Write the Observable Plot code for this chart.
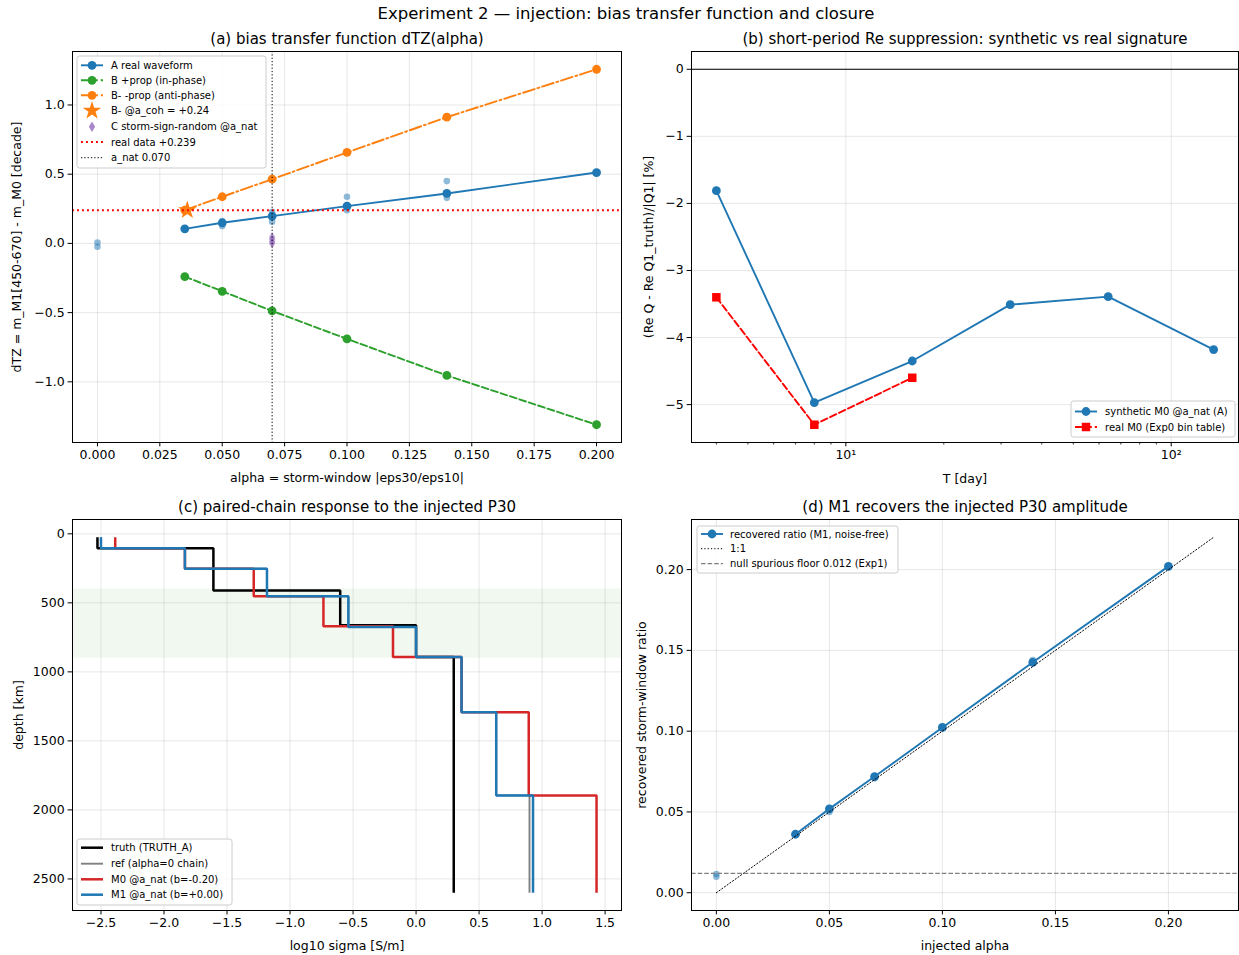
<!DOCTYPE html>
<html><head><meta charset="utf-8">
<script src="https://cdn.jsdelivr.net/npm/d3@7"></script>
<script src="https://cdn.jsdelivr.net/npm/@observablehq/plot@0.6"></script>
<style>
body{margin:0;background:#fff;}
#fig{position:relative;width:1239px;height:955px;overflow:hidden;background:#fff;font-family:"DejaVu Sans",sans-serif;}
#fig svg{position:absolute;overflow:visible;}
#sup{position:absolute;left:0;top:4px;width:1252px;text-align:center;font-size:16.5px;line-height:20px;color:#000;}
</style></head><body>
<div id="fig"><div id="sup">Experiment 2 — injection: bias transfer function and closure</div></div>
<script>
// ---------- data: panel (a) ----------
const alphaLevels = [0.035, 0.05, 0.07, 0.10, 0.14, 0.20];
const dtzA = [0.105, 0.149, 0.197, 0.269, 0.361, 0.512];
const dtzBplus = [-0.240, -0.346, -0.488, -0.690, -0.954, -1.310];
const dtzBminus = [0.240, 0.337, 0.464, 0.657, 0.912, 1.258];
const seedAlphaA = [0, 0, 0.05, 0.05, 0.07, 0.07, 0.10, 0.10, 0.14, 0.14];
const seedDtzA = [0.007, -0.024, 0.161, 0.125, 0.228, 0.156, 0.337, 0.240, 0.450, 0.329];
const aCoh = 0.036, dtzCoh = 0.24;
const aNat = 0.070;
const dtzC = [0.045, 0.030, 0.012, 0.000];
const realDtz = 0.239;
const xTicksA = [0, 0.025, 0.05, 0.075, 0.1, 0.125, 0.15, 0.175, 0.2];
const yTicksA = [-1, -0.5, 0, 0.5, 1];
// ---------- data: panel (b) ----------
const periods = [4, 8, 16, 32, 64, 135];
const synthRe = [-1.81, -4.97, -4.35, -3.51, -3.39, -4.18];
const realPeriods = [4, 8, 16];
const realRe = [-3.40, -5.30, -4.60];
const xTicksB = [10, 100];
const xTickLabelsB = ["10¹", "10²"];
const xMinorB = [4, 5, 6, 7, 8, 9, 20, 30, 40, 50, 60, 70, 80, 90];
const yTicksB = [-5, -4, -3, -2, -1, 0];
// ---------- data: panel (c) ----------
const truthDepth = [25, 104, 410, 663, 893, 2600];
const truthSig = [-2.528, -1.608, -0.602, 0.0, 0.299];
const ref_Depth = [25, 104, 253, 453, 675, 893, 1292, 1895, 2600];
const refSig = [-2.50, -1.834, -1.183, -0.537, 0.0, 0.361, 0.636, 0.900];
const m0Depth = [25, 104, 253, 453, 670, 893, 1292, 1895, 2600];
const m0Sig = [-2.387, -1.834, -1.288, -0.735, -0.183, 0.361, 0.894, 1.432];
const m1Depth = [25, 104, 253, 453, 675, 893, 1292, 1895, 2600];
const m1Sig = [-2.50, -1.834, -1.183, -0.537, 0.0, 0.361, 0.636, 0.928];
const bandTop = 400, bandBottom = 900;
const xTicksC = [-2.5, -2, -1.5, -1, -0.5, 0, 0.5, 1, 1.5];
const yTicksC = [0, 500, 1000, 1500, 2000, 2500];
// ---------- data: panel (d) ----------
const injAlpha = [0.035, 0.05, 0.07, 0.10, 0.14, 0.20];
const recRatio = [0.0362, 0.0519, 0.0719, 0.1023, 0.1426, 0.2020];
const seedInj = [0, 0, 0.05, 0.07, 0.14];
const seedRec = [0.0116, 0.0099, 0.0500, 0.0708, 0.1440];
const oneToOneX = [0, 0.22];
const nullFloor = 0.012;
const ticksD = [0, 0.05, 0.1, 0.15, 0.2];

// ---------- styling helpers ----------
const FONT = "DejaVu Sans";
const blue = "#1f77b4", orange = "#ff7f0e", green = "#2ca02c", tred = "#d62728", purple = "#9467bd";
const style = {fontFamily: FONT, fontSize: "12.5px", overflow: "visible", background: "none", color: "#000"};
const gridOpt = {stroke: "#b0b0b0", strokeOpacity: 0.3, strokeWidth: 1};
const axOpt = {tickSize: 4.4, tickPadding: 3.5, fontSize: 12.5, labelAnchor: "center", labelArrow: "none"};
const fmt = n => d => d.toFixed(n).replace("-", "\u2212");
const DASH = "6.9,3", DASHDOT = "12,3,1.9,3", DOT15 = "1.9,3.1", DOT1 = "1.25,2.06";
const RM = 4.4, RS = 3.3;
const thinDiamond = {draw(ctx, size) { const r = Math.sqrt(size / Math.PI); ctx.moveTo(0, -r); ctx.lineTo(0.6 * r, 0); ctx.lineTo(0, r); ctx.lineTo(-0.6 * r, 0); ctx.closePath(); }};
const title = t => Plot.text([t], {text: d => d, frameAnchor: "top", dy: -12, fontSize: 15, lineAnchor: "middle", fill: "#000"});
const pts = (xs, ys) => xs.map((x, i) => ({x, y: ys[i]}));
function steps(bounds, vals) { const p = []; vals.forEach((v, i) => { p.push({x: v, y: bounds[i]}); p.push({x: v, y: bounds[i + 1]}); }); return p; }
function mplDomain(lo, hi) { const m = 0.05 * (hi - lo); return [lo - m, hi + m]; }
const fig = document.getElementById("fig");
function place(svg, left, top) { svg.style.left = left + "px"; svg.style.top = top + "px"; fig.appendChild(svg); return svg; }
function legend(svg, box, items) {
  const g = d3.select(svg).append("g").attr("font-family", FONT).attr("font-size", 10).attr("text-anchor", "start");
  g.append("rect").attr("x", box.x).attr("y", box.y).attr("width", box.w).attr("height", box.h).attr("rx", 2.5)
    .attr("fill", "white").attr("fill-opacity", 0.8).attr("stroke", "#cccccc").attr("stroke-width", 1);
  items.forEach((it, i) => {
    const y = box.rows[i], x0 = box.hx, x1 = box.hx + 22, xm = (x0 + x1) / 2;
    if (it.line) g.append("line").attr("x1", x0).attr("x2", x1).attr("y1", y).attr("y2", y)
      .attr("stroke", it.line.stroke).attr("stroke-width", it.line.width || 1.9).attr("stroke-dasharray", it.line.dash || null);
    if (it.marker) g.append("path").attr("d", d3.symbol(it.marker.type, it.marker.size)())
      .attr("transform", `translate(${xm},${y})`).attr("fill", it.marker.fill).attr("fill-opacity", it.marker.opacity ?? 1);
    g.append("text").attr("x", box.tx).attr("y", y).attr("dy", "0.35em").attr("text-anchor", "start").attr("fill", "#000").text(it.label);
  });
}
const circ = fill => ({type: d3.symbolCircle, size: Math.PI * RM * RM, fill});

// ---------- panel (a) ----------
const A = pts(alphaLevels, dtzA), Bp = pts(alphaLevels, dtzBplus), Bm = pts(alphaLevels, dtzBminus);
const seedsA = pts(seedAlphaA, seedDtzA);
const C = dtzC.map(v => ({x: aNat, y: v}));
const ya = mplDomain(d3.min(dtzBplus), d3.max(dtzBminus));
const pa = Plot.plot({
  width: 640, height: 490, marginLeft: 72, marginRight: 19, marginTop: 51, marginBottom: 48,
  x: {domain: mplDomain(0, 0.2)}, y: {domain: ya}, style,
  marks: [
    Plot.gridX({ticks: xTicksA, ...gridOpt}),
    Plot.gridY({ticks: yTicksA, ...gridOpt}),
    Plot.dot(seedsA, {x: "x", y: "y", r: RS, fill: blue, fillOpacity: 0.5}),
    Plot.line(A, {x: "x", y: "y", stroke: blue, strokeWidth: 1.9}),
    Plot.dot(A, {x: "x", y: "y", r: RM, fill: blue}),
    Plot.line(Bp, {x: "x", y: "y", stroke: green, strokeWidth: 1.9, strokeDasharray: DASH}),
    Plot.dot(Bp, {x: "x", y: "y", r: RM, fill: green}),
    Plot.line(Bm, {x: "x", y: "y", stroke: orange, strokeWidth: 1.9, strokeDasharray: DASHDOT}),
    Plot.dot(Bm, {x: "x", y: "y", r: RM, fill: orange}),
    Plot.dot([{x: aCoh, y: dtzCoh}], {x: "x", y: "y", symbol: "star", r: 5.8, fill: orange}),
    Plot.dot(C, {x: "x", y: "y", symbol: thinDiamond, r: 5.2, fill: purple, fillOpacity: 0.6}),
    Plot.ruleY([realDtz], {stroke: "red", strokeWidth: 1.9, strokeDasharray: DOT15}),
    Plot.ruleX([aNat], {stroke: "black", strokeWidth: 1, strokeDasharray: DOT1}),
    Plot.frame({stroke: "black", strokeWidth: 1}),
    Plot.axisX({ticks: xTicksA, tickFormat: fmt(3), ...axOpt, label: "alpha = storm-window |eps30/eps10|", labelOffset: 39}),
    Plot.axisY({ticks: yTicksA, tickFormat: fmt(1), ...axOpt, label: "dTZ = m_M1[450-670] - m_M0 [decade]", labelOffset: 60}),
    title("(a) bias transfer function dTZ(alpha)")
  ]
});
place(pa, 0, 0);
legend(pa, {x: 77, y: 56, w: 189, h: 112, hx: 81, tx: 111, rows: [65.3, 80.3, 95.3, 110.7, 126.7, 142, 157.7]}, [
  {label: "A real waveform", line: {stroke: blue}, marker: circ(blue)},
  {label: "B +prop (in-phase)", line: {stroke: green, dash: DASH}, marker: circ(green)},
  {label: "B- -prop (anti-phase)", line: {stroke: orange, dash: DASHDOT}, marker: circ(orange)},
  {label: "B- @a_coh = +0.24", marker: {type: d3.symbolStar, size: Math.PI * 5.8 * 5.8, fill: orange}},
  {label: "C storm-sign-random @a_nat", marker: {type: thinDiamond, size: Math.PI * 5.2 * 5.2, fill: purple, opacity: 0.8}},
  {label: "real data +0.239", line: {stroke: "red", dash: DOT15}},
  {label: "a_nat 0.070", line: {stroke: "black", width: 1, dash: DOT1}}
]);

// ---------- panel (b) ----------
const S = pts(periods, synthRe), R = pts(realPeriods, realRe);
const lx = mplDomain(Math.log10(d3.min(periods)), Math.log10(d3.max(periods)));
const pb = Plot.plot({
  width: 599, height: 490, marginLeft: 51, marginRight: 1, marginTop: 51, marginBottom: 48,
  x: {type: "log", domain: lx.map(v => 10 ** v)}, y: {domain: mplDomain(d3.min(realRe), 0)}, style,
  marks: [
    Plot.gridX({ticks: xTicksB, ...gridOpt}),
    Plot.gridY({ticks: yTicksB, ...gridOpt}),
    Plot.ruleY([0], {stroke: "black", strokeWidth: 1}),
    Plot.line(S, {x: "x", y: "y", stroke: blue, strokeWidth: 1.9}),
    Plot.dot(S, {x: "x", y: "y", r: RM, fill: blue}),
    Plot.line(R, {x: "x", y: "y", stroke: "red", strokeWidth: 1.9, strokeDasharray: DASH}),
    Plot.dot(R, {x: "x", y: "y", symbol: "square", r: 4.8, fill: "red"}),
    Plot.frame({stroke: "black", strokeWidth: 1}),
    Plot.axisX({ticks: xTicksB, tickFormat: (d, i) => xTickLabelsB[xTicksB.indexOf(d)], ...axOpt, label: "T [day]", labelOffset: 40}),
    Plot.axisX({ticks: xMinorB, tickFormat: () => "", tickSize: 2.5, strokeWidth: 0.8, label: null}),
    Plot.axisY({ticks: yTicksB, tickFormat: fmt(0), ...axOpt, label: "(Re Q - Re Q1_truth)/|Q1| [%]", labelOffset: 47}),
    title("(b) short-period Re suppression: synthetic vs real signature")
  ]
});
place(pb, 640, 0);
legend(pb, {x: 431, y: 401, w: 164, h: 36, hx: 435, tx: 465, rows: [411.5, 427]}, [
  {label: "synthetic M0 @a_nat (A)", line: {stroke: blue}, marker: circ(blue)},
  {label: "real M0 (Exp0 bin table)", line: {stroke: "red", dash: DASH}, marker: {type: d3.symbolSquare, size: 72, fill: "red"}}
]);

// ---------- panel (c) ----------
const allSig = [...truthSig, ...refSig, ...m0Sig, ...m1Sig];
const pc = Plot.plot({
  width: 640, height: 465, marginLeft: 72, marginRight: 19, marginTop: 29, marginBottom: 45,
  x: {domain: mplDomain(d3.min(allSig), d3.max(allSig))},
  y: {domain: mplDomain(truthDepth[0], d3.max(truthDepth)).reverse()}, style,
  marks: [
    Plot.rect([{top: bandTop, bottom: bandBottom}], {y1: "top", y2: "bottom", fill: green, fillOpacity: 0.07}),
    Plot.gridX({ticks: xTicksC, ...gridOpt}),
    Plot.gridY({ticks: yTicksC, ...gridOpt}),
    Plot.line(steps(truthDepth, truthSig), {x: "x", y: "y", stroke: "black", strokeWidth: 2.5, strokeLinejoin: "miter", strokeLinecap: "butt"}),
    Plot.line(steps(ref_Depth, refSig), {x: "x", y: "y", stroke: "gray", strokeWidth: 1.9, strokeLinejoin: "miter", strokeLinecap: "butt"}),
    Plot.line(steps(m0Depth, m0Sig), {x: "x", y: "y", stroke: tred, strokeWidth: 2.5, strokeLinejoin: "miter", strokeLinecap: "butt"}),
    Plot.line(steps(m1Depth, m1Sig), {x: "x", y: "y", stroke: blue, strokeWidth: 2.5, strokeLinejoin: "miter", strokeLinecap: "butt"}),
    Plot.frame({stroke: "black", strokeWidth: 1}),
    Plot.axisX({ticks: xTicksC, tickFormat: fmt(1), ...axOpt, label: "log10 sigma [S/m]", labelOffset: 39}),
    Plot.axisY({ticks: yTicksC, tickFormat: fmt(0), ...axOpt, label: "depth [km]", labelOffset: 58}),
    title("(c) paired-chain response to the injected P30")
  ]
});
place(pc, 0, 490);
legend(pc, {x: 77, y: 349, w: 155, h: 66, hx: 81, tx: 111, rows: [357.7, 373.7, 389.3, 404.7]}, [
  {label: "truth (TRUTH_A)", line: {stroke: "black", width: 2.5}},
  {label: "ref (alpha=0 chain)", line: {stroke: "gray", width: 1.9}},
  {label: "M0 @a_nat (b=-0.20)", line: {stroke: tred, width: 2.5}},
  {label: "M1 @a_nat (b=+0.00)", line: {stroke: blue, width: 2.5}}
]);

// ---------- panel (d) ----------
const D = pts(injAlpha, recRatio), seedsD = pts(seedInj, seedRec);
const one = pts(oneToOneX, oneToOneX);
const dd = mplDomain(0, d3.max(oneToOneX));
const pd = Plot.plot({
  width: 599, height: 465, marginLeft: 51, marginRight: 1, marginTop: 29, marginBottom: 45,
  x: {domain: dd}, y: {domain: dd}, style,
  marks: [
    Plot.gridX({ticks: ticksD, ...gridOpt}),
    Plot.gridY({ticks: ticksD, ...gridOpt}),
    Plot.dot(seedsD, {x: "x", y: "y", r: RS, fill: blue, fillOpacity: 0.5}),
    Plot.line(D, {x: "x", y: "y", stroke: blue, strokeWidth: 1.9}),
    Plot.dot(D, {x: "x", y: "y", r: RM, fill: blue}),
    Plot.line(one, {x: "x", y: "y", stroke: "black", strokeWidth: 1, strokeDasharray: DOT1}),
    Plot.ruleY([nullFloor], {stroke: "gray", strokeWidth: 1.2, strokeDasharray: "4.6,2"}),
    Plot.frame({stroke: "black", strokeWidth: 1}),
    Plot.axisX({ticks: ticksD, tickFormat: fmt(2), ...axOpt, label: "injected alpha", labelOffset: 39}),
    Plot.axisY({ticks: ticksD, tickFormat: fmt(2), ...axOpt, label: "recovered storm-window ratio", labelOffset: 54}),
    title("(d) M1 recovers the injected P30 amplitude")
  ]
});
place(pd, 640, 490);
legend(pd, {x: 57, y: 36, w: 201, h: 47, hx: 61, tx: 90, rows: [44, 58.7, 73.7]}, [
  {label: "recovered ratio (M1, noise-free)", line: {stroke: blue}, marker: circ(blue)},
  {label: "1:1", line: {stroke: "black", width: 1, dash: DOT1}},
  {label: "null spurious floor 0.012 (Exp1)", line: {stroke: "gray", width: 1.2, dash: "4.6,2"}}
]);
</script>
</body></html>
